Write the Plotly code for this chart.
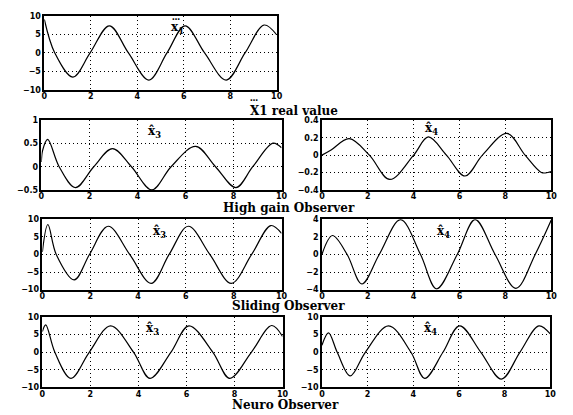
import plotly.graph_objects as go

# ---- data (key points: start, peaks, troughs, zero crossings, end) ----
t_x1 = [0, 0.45, 1.23, 1.97, 2.8, 3.62, 4.5, 5.28, 6.06, 6.9, 7.83, 8.64, 9.46, 10]
v_x1 = [9.0, 0, -6.5, 0, 7.3, 0, -7.3, 0, 7.3, 0, -7.3, 0, 7.5, 4.9]

t_hg3 = [0, 0.05, 0.26, 0.74, 1.42, 2.18, 2.96, 3.75, 4.6, 5.4, 6.42, 7.25, 8.1, 8.8, 9.64, 10]
v_hg3 = [0.1, 0.35, 0.59, 0, -0.45, 0, 0.39, 0, -0.5, 0, 0.44, 0, -0.45, 0, 0.51, 0.41]

t_hg4 = [0, 0.4, 1.19, 2.07, 2.96, 4.0, 4.64, 5.43, 6.24, 7.0, 8.07, 8.86, 9.57, 9.85, 10]
v_hg4 = [0, 0.06, 0.19, 0, -0.28, 0, 0.21, 0, -0.24, 0, 0.25, 0, -0.2, -0.2, -0.19]

t_sl3 = [0, 0.23, 0.58, 1.33, 1.97, 2.75, 3.65, 4.55, 5.3, 6.1, 7.0, 7.9, 8.75, 9.55, 10]
v_sl3 = [0.7, 8.5, 0, -7.2, 0, 8.0, 0, -8.2, 0, 8.0, 0, -8.2, 0, 8.2, 6.0]

t_sl4 = [0, 0.46, 1.1, 1.74, 2.5, 3.43, 4.3, 5.0, 5.9, 6.68, 7.55, 8.46, 9.3, 10]
v_sl4 = [0, 2.15, 0, -3.35, 0, 3.95, 0, -3.9, 0, 3.95, 0, -3.85, 0, 3.9]

t_ne3 = [0, 0.14, 0.52, 1.19, 1.95, 2.84, 3.8, 4.48, 5.35, 6.1, 7.1, 7.8, 8.7, 9.55, 10]
v_ne3 = [5.9, 7.8, 0, -7.4, 0, 7.5, 0, -7.4, 0, 7.5, 0, -7.4, 0, 7.6, 4.5]

t_ne4 = [0, 0.29, 0.67, 1.24, 1.9, 2.92, 3.9, 4.5, 5.3, 6.03, 6.96, 7.86, 8.67, 9.5, 10]
v_ne4 = [2.0, 5.5, 0, -6.7, 0, 7.5, 0, -7.4, 0, 7.5, 0, -7.6, 0, 7.5, 5.2]

x_ticks = [0, 2, 4, 6, 8, 10]
y_ticks_10 = [-10, -5, 0, 5, 10]
y_ticks_1 = [-0.5, 0, 0.5, 1]
y_ticks_04 = [-0.4, -0.2, 0, 0.2, 0.4]
y_ticks_4 = [-4, -2, 0, 2, 4]

panel_labels = ["x<sub>1</sub>", "x\u0302<sub>3</sub>", "x\u0302<sub>4</sub>",
                "x\u0302<sub>3</sub>", "x\u0302<sub>4</sub>", "x\u0302<sub>3</sub>", "x\u0302<sub>4</sub>"]
captions = ["X1 real value", "High gain Observer", "Sliding Observer", "Neuro Observer"]
triple_dot = "\u2026"

W, H = 573, 415

def px_x(a, b):
    return [a / W, b / W]

def px_y(top, bottom):
    return [1 - bottom / H, 1 - top / H]

panels = [
    # (t, v, xdom px, ydom px, yticks, yrange, label x, label y)
    (t_x1, v_x1, (42, 278), (12, 88), y_ticks_10, [-10, 10], 5.75, 6.6),
    (t_hg3, v_hg3, (39, 283), (119, 190), y_ticks_1, [-0.5, 1], 4.7, 0.74),
    (t_hg4, v_hg4, (324, 557), (119, 190), y_ticks_04, [-0.4, 0.4], 4.8, 0.3),
    (t_sl3, v_sl3, (40, 283), (220, 292), y_ticks_10, [-10, 10], 4.9, 6.5),
    (t_sl4, v_sl4, (324, 557), (220, 292), y_ticks_4, [-4, 4], 5.3, 2.6),
    (t_ne3, v_ne3, (40, 284), (320, 392), y_ticks_10, [-10, 10], 4.6, 6.5),
    (t_ne4, v_ne4, (324, 556), (320, 392), y_ticks_10, [-10, 10], 4.75, 6.5),
]

fig = go.Figure()
tick_font = dict(family="DejaVu Sans", size=8, color="black", weight="bold")
lab_font = dict(family="DejaVu Serif", size=12, color="black", weight="bold")
dot_font = dict(family="DejaVu Sans", size=8, color="black", weight="bold")
for i, (t, v, xd, yd, yt, yr, lx, ly) in enumerate(panels):
    n = "" if i == 0 else str(i + 1)
    fig.add_trace(go.Scatter(x=t, y=v, mode="lines",
                             line=dict(color="black", width=1.2, shape="spline", smoothing=1.0),
                             xaxis="x" + n, yaxis="y" + n, showlegend=False, hoverinfo="skip"))
    common = dict(showline=True, mirror=True, linecolor="black", linewidth=1.6,
                  showgrid=True, gridcolor="black", griddash="1px,3px", gridwidth=1,
                  zeroline=False, ticks="", tickfont=tick_font, fixedrange=True)
    fig.update_layout(**{
        "xaxis" + n: dict(domain=px_x(*xd), range=[0, 10], tickvals=x_ticks,
                          anchor="y" + n, ticklabelstandoff=-2, **common),
        "yaxis" + n: dict(domain=px_y(*yd), range=yr, tickvals=yt,
                          anchor="x" + n, **common),
    })
    fig.add_annotation(x=lx, y=ly, xref="x" + n, yref="y" + n, text=panel_labels[i],
                       showarrow=False, font=lab_font)
    if i == 0:
        fig.add_annotation(x=lx - 0.1, y=ly + 2.9, xref="x", yref="y", text=triple_dot,
                           showarrow=False, font=dot_font, borderpad=0)

cap_pos = [(250, 109), (222, 209), (232, 309), (232, 409.5)]
for j, (cap, (cx, cy)) in enumerate(zip(captions, cap_pos)):
    fig.add_annotation(x=cx / W, y=1 - cy / H, xref="paper", yref="paper", text=cap,
                       showarrow=False, xanchor="left", yanchor="middle", borderpad=0,
                       font=dict(family="DejaVu Serif", size=12, color="black", weight="bold"))
    if j == 0:
        fig.add_annotation(x=(cx + 5) / W, y=1 - (cy - 12) / H, xref="paper", yref="paper",
                           text=triple_dot, showarrow=False, xanchor="center", yanchor="middle",
                           borderpad=0, font=dot_font)

fig.update_layout(width=W, height=H, margin=dict(l=0, r=0, t=0, b=0),
                  paper_bgcolor="white", plot_bgcolor="white")
fig.write_html("out.html", config={"displayModeBar": False},
               post_script="document.body.style.margin='0px';")
